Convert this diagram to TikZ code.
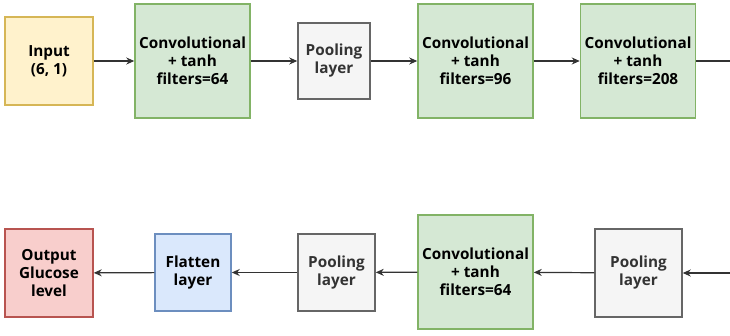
\documentclass[tikz,border=0pt]{standalone}
\usepackage{fontspec}
\setmainfont{Open Sans}
\usetikzlibrary{arrows.meta,positioning}
\definecolor{inpfill}{HTML}{FFF2CC}
\definecolor{inpline}{HTML}{D6B656}
\definecolor{convfill}{HTML}{D5E8D4}
\definecolor{convline}{HTML}{82B366}
\definecolor{poolfill}{HTML}{F5F5F5}
\definecolor{poolline}{HTML}{666666}
\definecolor{flatfill}{HTML}{DAE8FC}
\definecolor{flatline}{HTML}{6C8EBF}
\definecolor{outfill}{HTML}{F8CECC}
\definecolor{outline}{HTML}{B85450}
\definecolor{linkcol}{HTML}{333333}
\tikzset {
  >=Stealth,
  every node/.style={font=\bfseries\fontsize{15.3}{18}\selectfont, align=center},
  layer/.style={draw, line width=1.5pt, inner sep=0pt},
  inplayer/.style={layer, fill=inpfill, draw=inpline, minimum width=88pt, minimum height=88pt},
  convlayer/.style={layer, fill=convfill, draw=convline, minimum width=115pt, minimum height=114pt},
  poollayer/.style={layer, fill=poolfill, draw=poolline, text=linkcol},
  flatlayer/.style={layer, fill=flatfill, draw=flatline, minimum width=76pt, minimum height=77pt},
  outlayer/.style={layer, fill=outfill, draw=outline, minimum width=88pt, minimum height=88pt},
  link/.style={->, draw=linkcol, line width=1.2pt, >={Stealth[length=8pt,width=7pt]}},
}

\begin{document}
\begin{tikzpicture}[x=1pt,y=-1pt]
      \useasboundingbox (0,0) rectangle (730,335);

      \node[inplayer] (inp) at (49,61) {Input\\(6, 1)};
      \node[convlayer] (conva) at (192.5,61) {Convolutional\\+ tanh\\filters=64};
      \node[poollayer, minimum width=72pt, minimum height=76pt] (poola) at (334,61) {Pooling\\layer};
      \node[convlayer] (convb) at (475.5,61) {Convolutional\\+ tanh\\filters=96};
      \node[convlayer] (convc) at (638,61) {Convolutional\\+ tanh\\filters=208};
      \coordinate (ra) at (730,61);

      \coordinate (rb) at (730,273);
      \node[poollayer, minimum width=87pt, minimum height=88pt] (poolb) at (638.5,273) {Pooling\\layer};
      \node[convlayer] (convd) at (475.5,272) {Convolutional\\+ tanh\\filters=64};
      \node[poollayer, minimum width=77pt, minimum height=77pt] (poolc) at (336.5,272.5) {Pooling\\layer};
      \node[flatlayer] (flat) at (193,272.5) {Flatten\\layer};
      \node[outlayer] (out) at (49,273) {Output\\Glucose\\level};

      \draw[link] (inp) -- (conva);
      \draw[link] (conva) -- (poola);
      \draw[link] (poola) -- (convb);
      \draw[link] (convb) -- (convc);
      \draw[draw=linkcol, line width=1.2pt] (convc) -- (ra);

      \draw[link] (rb) -- (poolb.east |- rb);
      \draw[link] (poolb) -- (convd);
      \draw[link] (convd) -- (poolc);
      \draw[link] (poolc) -- (flat);
      \draw[link] (flat) -- (out);
    \end{tikzpicture}
\end{document}
